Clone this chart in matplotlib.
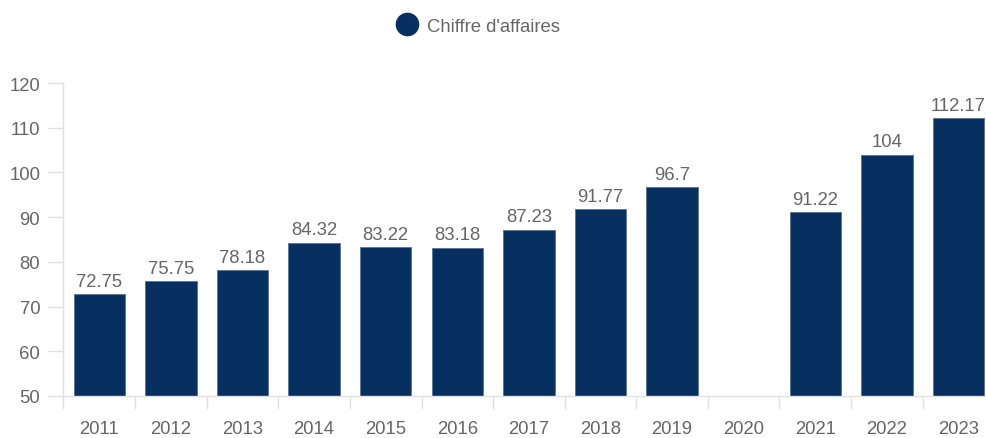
import numpy as np
import matplotlib.pyplot as plt
from matplotlib.ticker import FixedLocator
from matplotlib.lines import Line2D

years = ["2011", "2012", "2013", "2014", "2015", "2016", "2017",
         "2018", "2019", "2020", "2021", "2022", "2023"]
revenue = [72.75, 75.75, 78.18, 84.32, 83.22, 83.18, 87.23,
           91.77, 96.7, None, 91.22, 104, 112.17]
y_ticks = [50, 60, 70, 80, 90, 100, 110, 120]

bar_color = "#072f5f"
text_color = "#666666"
grid_color = "#e0e0e0"
fs = 13.3

plt.rcParams['font.family'] = ['Liberation Sans', 'DejaVu Sans']

fig = plt.figure(figsize=(9.86, 4.39), dpi=100)
# plot area runs a little past the right edge of the canvas
ax = fig.add_axes([63.5 / 986, 1 - 397 / 439, 13 * 71.6 / 986, (397 - 84) / 439])

x = np.arange(len(years))
for xi, v in zip(x, revenue):
    if v is None:
        continue
    ax.bar(xi, v - 50, bottom=50, width=0.72, color=bar_color,
           edgecolor="#5a7394", linewidth=0.6)
    ax.annotate("{:g}".format(v), (xi, v), xytext=(0, 3), textcoords="offset points",
                ha="center", va="bottom", fontsize=fs, color=text_color)

ax.set_xlim(-0.5, len(years) - 0.5)
ax.set_ylim(50, 120)

ax.set_xticks(x)
ax.set_xticklabels(years)
ax.xaxis.set_minor_locator(FixedLocator(np.arange(len(years) + 1) - 0.5))
ax.tick_params(axis="x", which="major", length=0, pad=17,
               labelsize=fs, labelcolor=text_color)
ax.tick_params(axis="x", which="minor", length=9.5, width=1, color=grid_color)

ax.set_yticks(y_ticks)
ax.tick_params(axis="y", length=10.8, width=1, color=grid_color, pad=6,
               labelsize=fs, labelcolor=text_color)

for side in ["top", "right"]:
    ax.spines[side].set_visible(False)
for side in ["left", "bottom"]:
    ax.spines[side].set_color(grid_color)
    ax.spines[side].set_linewidth(1)

handle = Line2D([], [], marker="o", linestyle="none", markersize=16,
                markerfacecolor=bar_color, markeredgecolor=bar_color)
fig.legend([handle], ["Chiffre d'affaires"], loc="center left",
           bbox_to_anchor=(396 / 986, 1 - 27 / 439), frameon=False,
           borderpad=0, borderaxespad=0, fontsize=fs, labelcolor=text_color,
           handletextpad=0.5, handlelength=1.2)

fig.savefig("out.png", dpi=100)
